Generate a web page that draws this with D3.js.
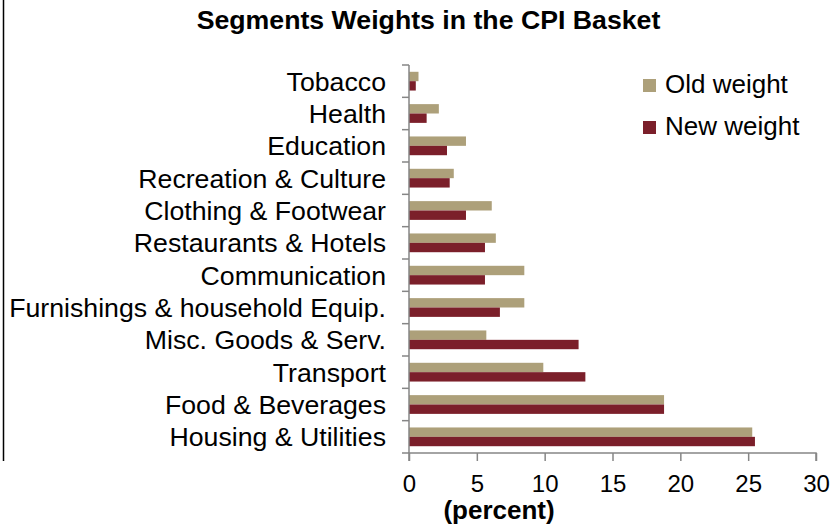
<!DOCTYPE html>
<html>
<head>
<meta charset="utf-8">
<script src="https://cdn.jsdelivr.net/npm/d3@7"></script>
<style>
  body { margin: 0; background: #fff; }
  svg { display: block; font-family: "Liberation Sans", Arial, sans-serif; }
</style>
</head>
<body>
<div id="chart"></div>
<script>
// categories from top to bottom
const categories = [
  "Tobacco", "Health", "Education", "Recreation & Culture", "Clothing & Footwear",
  "Restaurants & Hotels", "Communication", "Furnishings & household Equip.",
  "Misc. Goods & Serv.", "Transport", "Food & Beverages", "Housing & Utilities"
];
const oldWeight = [0.7, 2.2, 4.2, 3.3, 6.1, 6.4, 8.5, 8.5, 5.7, 9.9, 18.8, 25.3];
const newWeight = [0.5, 1.3, 2.8, 3.0, 4.2, 5.6, 5.6, 6.7, 12.5, 13.0, 18.8, 25.5];
const seriesNames = ["Old weight", "New weight"];
const seriesColors = ["#ada07a", "#7b1f2a"];
const xTicks = [0, 5, 10, 15, 20, 25, 30];

const width = 839, height = 524;
const margin = { top: 65, right: 23, bottom: 71, left: 409 };

const svg = d3.select("#chart").append("svg")
  .attr("width", width)
  .attr("height", height);

const rows = categories.map((c, i) => ({ cat: c, values: [oldWeight[i], newWeight[i]] }));

const x = d3.scaleLinear()
  .domain([0, 30])
  .range([margin.left, width - margin.right]);

const y = d3.scaleBand()
  .domain(categories)
  .range([margin.top, height - margin.bottom])
  .paddingInner(0.42)
  .paddingOuter(0.21);

const ySub = d3.scaleBand()
  .domain([0, 1])
  .range([0, y.bandwidth()]);

// left frame line
svg.append("line")
  .attr("x1", 3.5).attr("x2", 3.5)
  .attr("y1", 0).attr("y2", 461)
  .attr("stroke", "#000")
  .attr("stroke-width", 1.5);

// title
svg.append("text")
  .attr("x", 428.5)
  .attr("y", 29)
  .attr("text-anchor", "middle")
  .style("font-size", "26.7px")
  .style("font-weight", "bold")
  .text("Segments Weights in the CPI Basket");

// bars
const g = svg.append("g");
g.selectAll("g.row")
  .data(rows)
  .join("g")
    .attr("class", "row")
    .attr("transform", d => `translate(0,${y(d.cat)})`)
  .selectAll("rect")
  .data(d => d.values.map((v, i) => ({ v, i })))
  .join("rect")
    .attr("x", x(0))
    .attr("y", d => ySub(d.i))
    .attr("width", d => x(d.v) - x(0))
    .attr("height", ySub.bandwidth())
    .attr("fill", d => seriesColors[d.i]);

// y axis: ticks between categories
const yAxisG = svg.append("g");
const yStep = y.step();
const boundaries = d3.range(categories.length + 1).map(i => margin.top + i * yStep);
yAxisG.append("line")
  .attr("x1", x(0)).attr("x2", x(0))
  .attr("y1", margin.top).attr("y2", height - margin.bottom)
  .attr("stroke", "#868686").attr("stroke-width", 1.5);
yAxisG.selectAll("line.tick")
  .data(boundaries)
  .join("line")
    .attr("class", "tick")
    .attr("x1", x(0) - 7).attr("x2", x(0))
    .attr("y1", d => d).attr("y2", d => d)
    .attr("stroke", "#868686").attr("stroke-width", 1.5);
yAxisG.selectAll("text")
  .data(categories)
  .join("text")
    .attr("x", 386)
    .attr("y", d => y(d) + y.bandwidth() / 2)
    .attr("dy", "0.35em")
    .attr("text-anchor", "end")
    .style("font-size", "26.7px")
    .text(d => d);

// x axis
const xAxis = d3.axisBottom(x)
  .tickValues(xTicks)
  .tickSize(8)
  .tickPadding(14)
  .tickFormat(d3.format("d"));
const xAxisG = svg.append("g")
  .attr("transform", `translate(0,${height - margin.bottom})`)
  .call(xAxis);
xAxisG.select(".domain")
  .attr("d", `M${x(0)},8V0H${x(30)}V8`)
  .attr("stroke", "#868686").attr("stroke-width", 1.5);
xAxisG.selectAll(".tick line").attr("stroke", "#868686").attr("stroke-width", 1.5);
xAxisG.selectAll(".tick text")
  .style("font-size", "24px")
  .style("font-family", "'Liberation Sans', Arial, sans-serif")
  .attr("fill", "#000");

// axis title
svg.append("text")
  .attr("x", 499)
  .attr("y", 519)
  .attr("text-anchor", "middle")
  .style("font-size", "26px")
  .style("font-weight", "bold")
  .text("(percent)");

// legend
const legend = svg.append("g");
seriesNames.forEach((name, i) => {
  const ly = 79 + i * 42;
  legend.append("rect")
    .attr("x", 643).attr("y", ly)
    .attr("width", 13).attr("height", 13)
    .attr("fill", seriesColors[i]);
  legend.append("text")
    .attr("x", 665).attr("y", ly + 14)
    .style("font-size", "26px")
    .text(name);
});
</script>
</body>
</html>
